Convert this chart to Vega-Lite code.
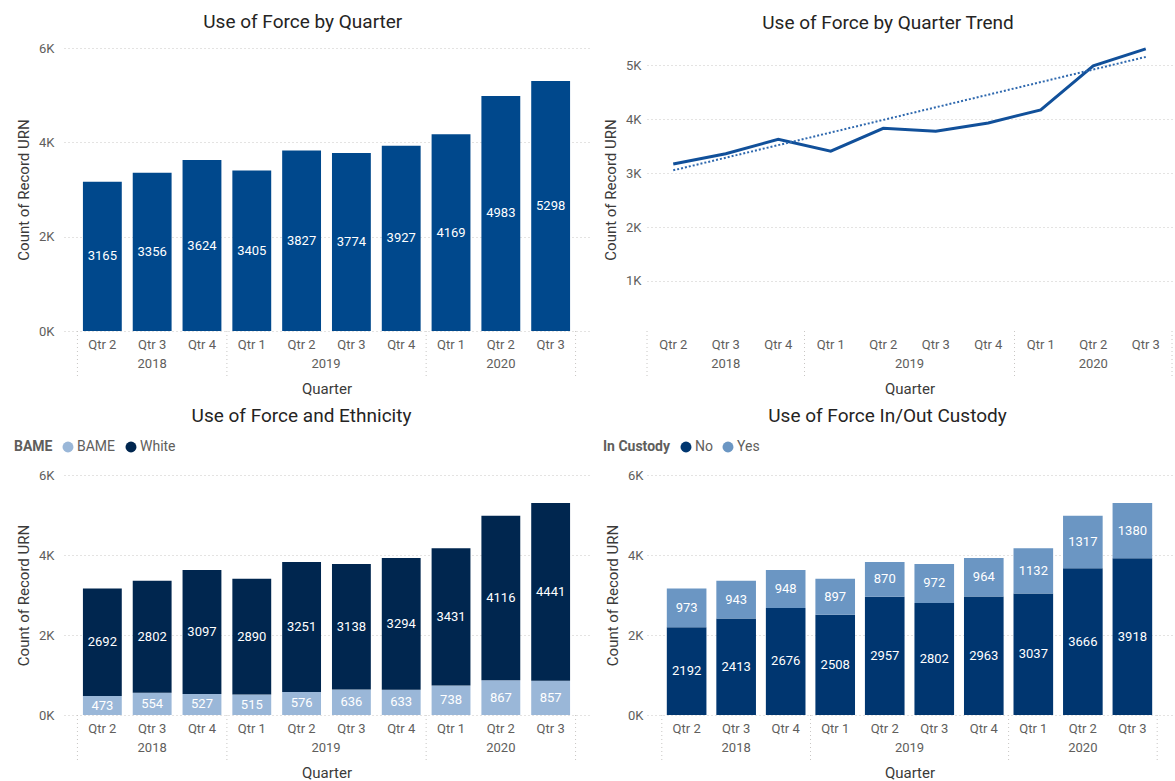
{
  "$schema": "https://vega.github.io/schema/vega-lite/v6.json",
  "padding": {"left": 14, "top": 13, "right": 0, "bottom": 0},
  "background": "white",
  "datasets": {
    "total": [
      {"q": "2018 Q2", "count": 3165}, {"q": "2018 Q3", "count": 3356}, {"q": "2018 Q4", "count": 3624},
      {"q": "2019 Q1", "count": 3405}, {"q": "2019 Q2", "count": 3827}, {"q": "2019 Q3", "count": 3774},
      {"q": "2019 Q4", "count": 3927}, {"q": "2020 Q1", "count": 4169}, {"q": "2020 Q2", "count": 4983},
      {"q": "2020 Q3", "count": 5298}
    ],
    "trend": [
      {"q": "2018 Q2", "trend": 3050}, {"q": "2020 Q3", "trend": 5150}
    ],
    "eth": [
      {"q": "2018 Q2", "BAME": "BAME", "count": 473}, {"q": "2018 Q2", "BAME": "White", "count": 2692},
      {"q": "2018 Q3", "BAME": "BAME", "count": 554}, {"q": "2018 Q3", "BAME": "White", "count": 2802},
      {"q": "2018 Q4", "BAME": "BAME", "count": 527}, {"q": "2018 Q4", "BAME": "White", "count": 3097},
      {"q": "2019 Q1", "BAME": "BAME", "count": 515}, {"q": "2019 Q1", "BAME": "White", "count": 2890},
      {"q": "2019 Q2", "BAME": "BAME", "count": 576}, {"q": "2019 Q2", "BAME": "White", "count": 3251},
      {"q": "2019 Q3", "BAME": "BAME", "count": 636}, {"q": "2019 Q3", "BAME": "White", "count": 3138},
      {"q": "2019 Q4", "BAME": "BAME", "count": 633}, {"q": "2019 Q4", "BAME": "White", "count": 3294},
      {"q": "2020 Q1", "BAME": "BAME", "count": 738}, {"q": "2020 Q1", "BAME": "White", "count": 3431},
      {"q": "2020 Q2", "BAME": "BAME", "count": 867}, {"q": "2020 Q2", "BAME": "White", "count": 4116},
      {"q": "2020 Q3", "BAME": "BAME", "count": 857}, {"q": "2020 Q3", "BAME": "White", "count": 4441}
    ],
    "cust": [
      {"q": "2018 Q2", "In Custody": "No", "count": 2192}, {"q": "2018 Q2", "In Custody": "Yes", "count": 973},
      {"q": "2018 Q3", "In Custody": "No", "count": 2413}, {"q": "2018 Q3", "In Custody": "Yes", "count": 943},
      {"q": "2018 Q4", "In Custody": "No", "count": 2676}, {"q": "2018 Q4", "In Custody": "Yes", "count": 948},
      {"q": "2019 Q1", "In Custody": "No", "count": 2508}, {"q": "2019 Q1", "In Custody": "Yes", "count": 897},
      {"q": "2019 Q2", "In Custody": "No", "count": 2957}, {"q": "2019 Q2", "In Custody": "Yes", "count": 870},
      {"q": "2019 Q3", "In Custody": "No", "count": 2802}, {"q": "2019 Q3", "In Custody": "Yes", "count": 972},
      {"q": "2019 Q4", "In Custody": "No", "count": 2963}, {"q": "2019 Q4", "In Custody": "Yes", "count": 964},
      {"q": "2020 Q1", "In Custody": "No", "count": 3037}, {"q": "2020 Q1", "In Custody": "Yes", "count": 1132},
      {"q": "2020 Q2", "In Custody": "No", "count": 3666}, {"q": "2020 Q2", "In Custody": "Yes", "count": 1317},
      {"q": "2020 Q3", "In Custody": "No", "count": 3918}, {"q": "2020 Q3", "In Custody": "Yes", "count": 1380}
    ],
    "yearsMid": [{"q": "2018 Q3", "year": "2018"}, {"q": "2020 Q2", "year": "2020"}],
    "yearsEdge": [{"q": "2019 Q2", "year": "2019"}],
    "sepStart": [{"q": "2018 Q2"}],
    "sepEnd": [{"q": "2018 Q4"}, {"q": "2019 Q4"}, {"q": "2020 Q3"}]
  },
  "resolve": {"scale": {"color": "independent"}, "legend": {"color": "independent"}},
  "vconcat": [
    {
      "hconcat": [
        {
          "title": "Use of Force by Quarter",
          "width": 525,
          "height": 283,
          "layer": [
            {
              "data": {"name": "total"},
              "mark": {"type": "bar", "color": "#00488C"},
              "encoding": {
                "x": {"field": "q", "type": "nominal", "title": "Quarter",
                  "scale": {"type": "band", "paddingInner": 0.22, "paddingOuter": 0.38},
                  "axis": {"labelExpr": "'Qtr ' + slice(datum.value, -1)", "labelAngle": 0, "labelPadding": 7, "titlePadding": 30}},
                "y": {"field": "count", "type": "quantitative", "title": "Count of Record URN",
                  "scale": {"domain": [0, 6000], "nice": false},
                  "axis": {"values": [0, 2000, 4000, 6000], "labelExpr": "datum.value / 1000 + 'K'", "labelPadding": 10, "titlePadding": 7}}
              }
            },
            {
              "data": {"name": "total"},
              "mark": {"type": "text", "color": "white", "fontSize": 13},
              "encoding": {
                "x": {"field": "q", "type": "nominal"},
                "y": {"field": "count", "type": "quantitative", "stack": "zero", "bandPosition": 0.5},
                "detail": {"field": "q"},
                "text": {"field": "count", "type": "quantitative", "format": "d"}
              }
            },
            {
              "data": {"name": "yearsMid"},
              "mark": {"type": "text", "color": "#605E5C", "fontSize": 13, "dy": 33, "baseline": "middle"},
              "encoding": {"x": {"field": "q", "type": "nominal"}, "y": {"datum": 0}, "text": {"field": "year"}}
            },
            {
              "data": {"name": "yearsEdge"},
              "mark": {"type": "text", "color": "#605E5C", "fontSize": 13, "dy": 33, "baseline": "middle", "dx": 5},
              "encoding": {"x": {"field": "q", "type": "nominal", "bandPosition": 1}, "y": {"datum": 0}, "text": {"field": "year"}}
            },
            {
              "data": {"name": "sepStart"},
              "mark": {"type": "rule", "color": "#C8C6C4", "strokeDash": [1, 3], "xOffset": -5.5, "y2Offset": 45},
              "encoding": {"x": {"field": "q", "type": "nominal", "bandPosition": 0}, "y": {"datum": 0}, "y2": {"datum": 0}}
            },
            {
              "data": {"name": "sepEnd"},
              "mark": {"type": "rule", "color": "#C8C6C4", "strokeDash": [1, 3], "xOffset": 5.5, "y2Offset": 45},
              "encoding": {"x": {"field": "q", "type": "nominal", "bandPosition": 1}, "y": {"datum": 0}, "y2": {"datum": 0}}
            }
          ]
        },
        {
          "title": "Use of Force by Quarter Trend",
          "width": 525,
          "height": 283,
          "layer": [
            {
              "data": {"name": "total"},
              "mark": {"type": "line", "color": "#11509A", "strokeWidth": 3},
              "encoding": {
                "x": {"field": "q", "type": "nominal", "title": "Quarter",
                  "scale": {"type": "band", "paddingInner": 0, "paddingOuter": 0},
                  "axis": {"labelExpr": "'Qtr ' + slice(datum.value, -1)", "labelAngle": 0, "labelPadding": 7, "titlePadding": 30}},
                "y": {"field": "count", "type": "quantitative", "title": "Count of Record URN",
                  "scale": {"domain": [74, 5315], "nice": false, "zero": false},
                  "axis": {"values": [1000, 2000, 3000, 4000, 5000], "labelExpr": "datum.value / 1000 + 'K'", "labelPadding": 6, "titlePadding": 7}}
              }
            },
            {
              "data": {"name": "trend"},
              "mark": {"type": "line", "color": "#2E68AE", "strokeWidth": 2, "strokeDash": [2, 2]},
              "encoding": {
                "x": {"field": "q", "type": "nominal", "title": "Quarter"},
                "y": {"field": "trend", "type": "quantitative", "title": "Count of Record URN"}
              }
            },
            {
              "data": {"name": "yearsMid"},
              "mark": {"type": "text", "color": "#605E5C", "fontSize": 13, "dy": 33, "baseline": "middle"},
              "encoding": {"x": {"field": "q", "type": "nominal"}, "y": {"datum": 74}, "text": {"field": "year"}}
            },
            {
              "data": {"name": "yearsEdge"},
              "mark": {"type": "text", "color": "#605E5C", "fontSize": 13, "dy": 33, "baseline": "middle"},
              "encoding": {"x": {"field": "q", "type": "nominal", "bandPosition": 1}, "y": {"datum": 74}, "text": {"field": "year"}}
            },
            {
              "data": {"name": "sepStart"},
              "mark": {"type": "rule", "color": "#C8C6C4", "strokeDash": [1, 3], "y2Offset": 45},
              "encoding": {"x": {"field": "q", "type": "nominal", "bandPosition": 0}, "y": {"datum": 74}, "y2": {"datum": 74}}
            },
            {
              "data": {"name": "sepEnd"},
              "mark": {"type": "rule", "color": "#C8C6C4", "strokeDash": [1, 3], "y2Offset": 45},
              "encoding": {"x": {"field": "q", "type": "nominal", "bandPosition": 1}, "y": {"datum": 74}, "y2": {"datum": 74}}
            }
          ]
        }
      ]
    },
    {
      "resolve": {"scale": {"color": "independent"}, "legend": {"color": "independent"}},
      "hconcat": [
        {
          "title": {"text": "Use of Force and Ethnicity", "offset": 14},
          "width": 525,
          "height": 240,
          "layer": [
            {
              "data": {"name": "eth"},
              "mark": {"type": "bar"},
              "encoding": {
                "x": {"field": "q", "type": "nominal", "title": "Quarter",
                  "scale": {"type": "band", "paddingInner": 0.22, "paddingOuter": 0.38},
                  "axis": {"labelExpr": "'Qtr ' + slice(datum.value, -1)", "labelAngle": 0, "labelPadding": 7, "titlePadding": 30}},
                "y": {"field": "count", "type": "quantitative", "title": "Count of Record URN", "stack": "zero",
                  "scale": {"domain": [0, 6000], "nice": false},
                  "axis": {"values": [0, 2000, 4000, 6000], "labelExpr": "datum.value / 1000 + 'K'", "labelPadding": 10, "titlePadding": 7}},
                "color": {"field": "BAME", "type": "nominal", "title": "BAME",
                  "scale": {"domain": ["BAME", "White"], "range": ["#9AB7D8", "#00264F"]},
                  "legend": {"legendX": -50, "legendY": -35}},
                "order": {"field": "BAME", "sort": "ascending"}
              }
            },
            {
              "data": {"name": "eth"},
              "mark": {"type": "text", "color": "white", "fontSize": 13},
              "encoding": {
                "x": {"field": "q", "type": "nominal"},
                "y": {"field": "count", "type": "quantitative", "stack": "zero", "bandPosition": 0.5},
                "detail": {"field": "BAME"},
                "order": {"field": "BAME", "sort": "ascending"},
                "text": {"field": "count", "type": "quantitative", "format": "d"}
              }
            },
            {
              "data": {"name": "yearsMid"},
              "mark": {"type": "text", "color": "#605E5C", "fontSize": 13, "dy": 33, "baseline": "middle"},
              "encoding": {"x": {"field": "q", "type": "nominal"}, "y": {"datum": 0}, "text": {"field": "year"}}
            },
            {
              "data": {"name": "yearsEdge"},
              "mark": {"type": "text", "color": "#605E5C", "fontSize": 13, "dy": 33, "baseline": "middle", "dx": 5},
              "encoding": {"x": {"field": "q", "type": "nominal", "bandPosition": 1}, "y": {"datum": 0}, "text": {"field": "year"}}
            },
            {
              "data": {"name": "sepStart"},
              "mark": {"type": "rule", "color": "#C8C6C4", "strokeDash": [1, 3], "xOffset": -5.5, "y2Offset": 45},
              "encoding": {"x": {"field": "q", "type": "nominal", "bandPosition": 0}, "y": {"datum": 0}, "y2": {"datum": 0}}
            },
            {
              "data": {"name": "sepEnd"},
              "mark": {"type": "rule", "color": "#C8C6C4", "strokeDash": [1, 3], "xOffset": 5.5, "y2Offset": 45},
              "encoding": {"x": {"field": "q", "type": "nominal", "bandPosition": 1}, "y": {"datum": 0}, "y2": {"datum": 0}}
            }
          ]
        },
        {
          "title": {"text": "Use of Force In/Out Custody", "offset": 14},
          "width": 525,
          "height": 240,
          "layer": [
            {
              "data": {"name": "cust"},
              "mark": {"type": "bar"},
              "encoding": {
                "x": {"field": "q", "type": "nominal", "title": "Quarter",
                  "scale": {"type": "band", "paddingInner": 0.2, "paddingOuter": 0.4},
                  "axis": {"labelExpr": "'Qtr ' + slice(datum.value, -1)", "labelAngle": 0, "labelPadding": 7, "titlePadding": 30}},
                "y": {"field": "count", "type": "quantitative", "title": "Count of Record URN", "stack": "zero",
                  "scale": {"domain": [0, 6000], "nice": false},
                  "axis": {"values": [0, 2000, 4000, 6000], "labelExpr": "datum.value / 1000 + 'K'", "labelPadding": 4, "titlePadding": 7}},
                "color": {"field": "In Custody", "type": "nominal", "title": "In Custody",
                  "scale": {"domain": ["No", "Yes"], "range": ["#003670", "#6B96C3"]},
                  "legend": {"legendX": -44, "legendY": -35}},
                "order": {"field": "In Custody", "sort": "ascending"}
              }
            },
            {
              "data": {"name": "cust"},
              "mark": {"type": "text", "color": "white", "fontSize": 13},
              "encoding": {
                "x": {"field": "q", "type": "nominal"},
                "y": {"field": "count", "type": "quantitative", "stack": "zero", "bandPosition": 0.5},
                "detail": {"field": "In Custody"},
                "order": {"field": "In Custody", "sort": "ascending"},
                "text": {"field": "count", "type": "quantitative", "format": "d"}
              }
            },
            {
              "data": {"name": "yearsMid"},
              "mark": {"type": "text", "color": "#605E5C", "fontSize": 13, "dy": 33, "baseline": "middle"},
              "encoding": {"x": {"field": "q", "type": "nominal"}, "y": {"datum": 0}, "text": {"field": "year"}}
            },
            {
              "data": {"name": "yearsEdge"},
              "mark": {"type": "text", "color": "#605E5C", "fontSize": 13, "dy": 33, "baseline": "middle", "dx": 5},
              "encoding": {"x": {"field": "q", "type": "nominal", "bandPosition": 1}, "y": {"datum": 0}, "text": {"field": "year"}}
            },
            {
              "data": {"name": "sepStart"},
              "mark": {"type": "rule", "color": "#C8C6C4", "strokeDash": [1, 3], "xOffset": -5, "y2Offset": 45},
              "encoding": {"x": {"field": "q", "type": "nominal", "bandPosition": 0}, "y": {"datum": 0}, "y2": {"datum": 0}}
            },
            {
              "data": {"name": "sepEnd"},
              "mark": {"type": "rule", "color": "#C8C6C4", "strokeDash": [1, 3], "xOffset": 5, "y2Offset": 45},
              "encoding": {"x": {"field": "q", "type": "nominal", "bandPosition": 1}, "y": {"datum": 0}, "y2": {"datum": 0}}
            }
          ]
        }
      ]
    }
  ],
  "spacing": 11,
  "config": {
    "font": "Roboto",
    "concat": {"spacing": 14},
    "view": {"stroke": null},
    "title": {"fontSize": 19, "fontWeight": "normal", "color": "#252423", "anchor": "middle", "frame": "bounds", "offset": 10},
    "axis": {"labelColor": "#605E5C", "labelFontSize": 13, "titleColor": "#3B3A39", "titleFontSize": 15, "titleFontWeight": "normal", "domain": false, "ticks": false, "grid": false},
    "axisY": {"grid": true, "gridDash": [1, 3], "gridColor": "#C8C6C4", "gridWidth": 1},
    "legend": {"orient": "none", "direction": "horizontal", "titleOrient": "left", "symbolType": "circle", "symbolSize": 120, "labelFontSize": 14, "labelColor": "#605E5C", "titleFontSize": 14, "titleColor": "#605E5C", "titleFontWeight": "bold", "titlePadding": 8, "columnPadding": 8, "labelOffset": 2}
  }
}
